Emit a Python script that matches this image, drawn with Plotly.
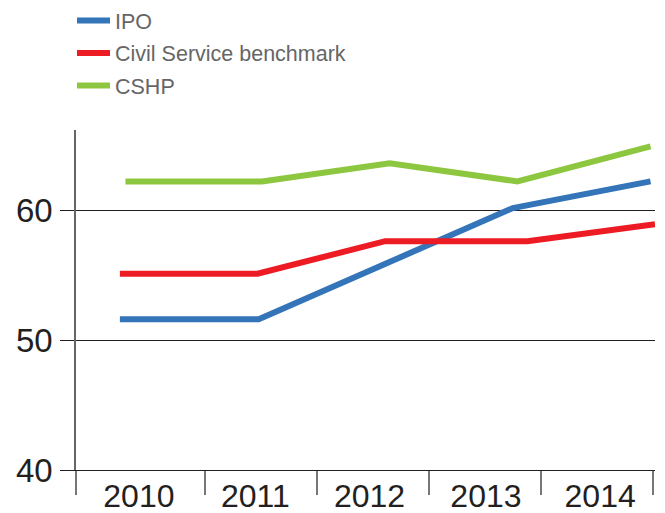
import plotly.graph_objects as go

# Data (x as fractional year positions of line vertices)
ipo_x = [2009.74, 2010.98, 2013.25, 2014.48]
ipo_y = [51.6, 51.6, 60.15, 62.2]

csb_x = [2009.74, 2010.97, 2012.11, 2013.38, 2014.52]
csb_y = [55.1, 55.1, 57.6, 57.6, 58.9]

cshp_x = [2009.79, 2011.01, 2012.15, 2013.29, 2014.48]
cshp_y = [62.2, 62.2, 63.6, 62.2, 64.9]

years = ["2010", "2011", "2012", "2013", "2014"]
year_label_pos = [2009.91, 2010.95, 2011.97, 2013.01, 2014.03]
separators = [2009.349, 2010.5, 2011.5, 2012.5, 2013.5, 2014.5]
y_ticks = [40, 50, 60]

BLUE = "#3474b8"
RED = "#ed1c24"
GREEN = "#8dc63f"
DARK = "#231f20"

fig = go.Figure()
for name, xs, ys, col in [("IPO", ipo_x, ipo_y, BLUE),
                          ("Civil Service benchmark", csb_x, csb_y, RED),
                          ("CSHP", cshp_x, cshp_y, GREEN)]:
    fig.add_trace(go.Scatter(x=xs, y=ys, mode="lines", name=name, legendgroup=name,
                             line=dict(color=col, width=6), cliponaxis=False))

# invisible trace on overlaying axis for year labels
fig.add_trace(go.Scatter(x=year_label_pos, y=[None]*5, xaxis="x2", showlegend=False,
                         hoverinfo="skip"))

xr = [2009.348, 2014.52]
fig.update_layout(
    width=665, height=513,
    margin=dict(l=76, r=10, t=130, b=43, autoexpand=False),
    paper_bgcolor="white", plot_bgcolor="white",
    font=dict(family="Liberation Sans, Arial, sans-serif", color=DARK),
    showlegend=True,
    legend=dict(x=72/665, xref="container", y=1 + 2/513, yref="container", yanchor="top",
                xanchor="left", bgcolor="rgba(0,0,0,0)",
                font=dict(size=21.5, color="#666666"), itemwidth=33,
                tracegroupgap=1.5),
    xaxis=dict(range=xr, tickmode="array", tickvals=separators, ticktext=[""]*6,
               ticks="outside", ticklen=24, tickwidth=1.5, tickcolor="#777777",
               showgrid=False, zeroline=False, showline=True, linecolor=DARK,
               linewidth=1.2, showticklabels=False, automargin=False),
    xaxis2=dict(range=xr, overlaying="x", side="bottom", tickmode="array",
                tickvals=year_label_pos, ticktext=years, ticks="", showgrid=False,
                zeroline=False, showline=False, tickfont=dict(size=32, color=DARK),
                ticklabelstandoff=4, automargin=False),
    yaxis=dict(range=[40, 40 + 340/13], tickmode="array", tickvals=y_ticks,
               ticks="outside", ticklen=14, tickwidth=1.2, tickcolor=DARK,
               showgrid=True, gridcolor=DARK, gridwidth=1.2, zeroline=False,
               showline=True, linecolor="#666666", linewidth=1.5,
               tickfont=dict(size=33, color=DARK), ticklabelstandoff=1,
               automargin=False),
)

fig.write_html("out.html")
